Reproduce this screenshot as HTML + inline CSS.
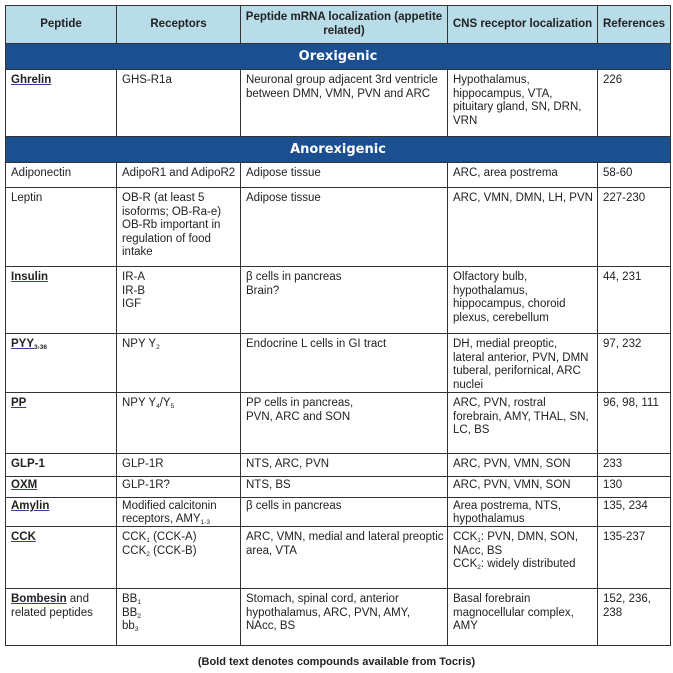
<!DOCTYPE html>
<html><head><meta charset="utf-8"><style>
body{margin:0;background:#fff;width:673px;height:673px;overflow:hidden;font-family:"Liberation Sans",Arial,sans-serif;}
table{position:absolute;left:5px;top:5px;border-collapse:collapse;table-layout:fixed;width:665px;font-size:11.5px;color:#222;}
td,th{border:1px solid #333;vertical-align:top;padding:4px 1px 0 5px;line-height:13.5px;overflow:hidden;white-space:nowrap;}
th{background:#b8dce8;font-weight:bold;vertical-align:middle;text-align:center;font-size:11.5px;padding:0 1px;}
tr.sec td{background:#1c4f8f;color:#fff;font-weight:bold;text-align:center;font-size:13px;font-family:"DejaVu Sans",sans-serif;vertical-align:middle;padding:0;}
tr.t td{padding-top:2px;line-height:13px}
a{color:#222;font-weight:bold;text-decoration:underline;text-decoration-color:#3a3a9a;}
b{color:#222}
sub{font-size:6.5px;vertical-align:-2px;line-height:0}
.cap{position:absolute;left:0;width:673px;top:656px;text-align:center;font-weight:bold;font-size:11px;color:#222;}
</style></head><body>
<table>
<colgroup><col style="width:111px"><col style="width:124px"><col style="width:207px"><col style="width:150px"><col style="width:73px"></colgroup>
<tr style="height:38px"><th>Peptide</th><th>Receptors</th><th>Peptide mRNA localization (appetite<br>related)</th><th>CNS receptor localization</th><th>References</th></tr>
<tr class="sec" style="height:26px"><td colspan="5">Orexigenic</td></tr>
<tr style="height:67px"><td><a>Ghrelin</a></td><td>GHS-R1a</td><td>Neuronal group adjacent 3rd ventricle<br>between DMN, VMN, PVN and ARC</td><td>Hypothalamus,<br>hippocampus, VTA,<br>pituitary gland, SN, DRN,<br>VRN</td><td>226</td></tr>
<tr class="sec" style="height:26px"><td colspan="5">Anorexigenic</td></tr>
<tr style="height:25px"><td>Adiponectin</td><td>AdipoR1 and AdipoR2</td><td>Adipose tissue</td><td>ARC, area postrema</td><td>58-60</td></tr>
<tr style="height:79px"><td>Leptin</td><td>OB-R (at least 5<br>isoforms; OB-Ra-e)<br>OB-Rb important in<br>regulation of food<br>intake</td><td>Adipose tissue</td><td>ARC, VMN, DMN, LH, PVN</td><td>227-230</td></tr>
<tr style="height:67px"><td><a>Insulin</a></td><td>IR-A<br>IR-B<br>IGF</td><td>β cells in pancreas<br>Brain?</td><td>Olfactory bulb,<br>hypothalamus,<br>hippocampus, choroid<br>plexus, cerebellum</td><td>44, 231</td></tr>
<tr style="height:59px"><td><a>PYY<sub>3-36</sub></a></td><td>NPY Y<sub>2</sub></td><td>Endocrine L cells in GI tract</td><td>DH, medial preoptic,<br>lateral anterior, PVN, DMN<br>tuberal, perifornical, ARC<br>nuclei</td><td>97, 232</td></tr>
<tr style="height:61px"><td><a>PP</a></td><td>NPY Y<sub>4</sub>/Y<sub>5</sub></td><td>PP cells in pancreas,<br>PVN, ARC and SON</td><td>ARC, PVN, rostral<br>forebrain, AMY, THAL, SN,<br>LC, BS</td><td>96, 98, 111</td></tr>
<tr style="height:23px"><td><b>GLP-1</b></td><td>GLP-1R</td><td>NTS, ARC, PVN</td><td>ARC, PVN, VMN, SON</td><td>233</td></tr>
<tr style="height:21px" class="t"><td><a>OXM</a></td><td>GLP-1R?</td><td>NTS, BS</td><td>ARC, PVN, VMN, SON</td><td>130</td></tr>
<tr style="height:29px" class="t"><td><a>Amylin</a></td><td>Modified calcitonin<br>receptors, AMY<sub>1-3</sub></td><td>β cells in pancreas</td><td>Area postrema, NTS,<br>hypothalamus</td><td>135, 234</td></tr>
<tr style="height:62px"><td><a>CCK</a></td><td>CCK<sub>1</sub> (CCK-A)<br>CCK<sub>2</sub> (CCK-B)</td><td>ARC, VMN, medial and lateral preoptic<br>area, VTA</td><td>CCK<sub>1</sub>: PVN, DMN, SON,<br>NAcc, BS<br>CCK<sub>2</sub>: widely distributed</td><td>135-237</td></tr>
<tr style="height:57px"><td><a>Bombesin</a> and<br>related peptides</td><td>BB<sub>1</sub><br>BB<sub>2</sub><br>bb<sub>3</sub></td><td>Stomach, spinal cord, anterior<br>hypothalamus, ARC, PVN, AMY,<br>NAcc, BS</td><td>Basal forebrain<br>magnocellular complex,<br>AMY</td><td>152, 236,<br>238</td></tr>
</table>
<div class="cap">(Bold text denotes compounds available from Tocris)</div>
</body></html>
